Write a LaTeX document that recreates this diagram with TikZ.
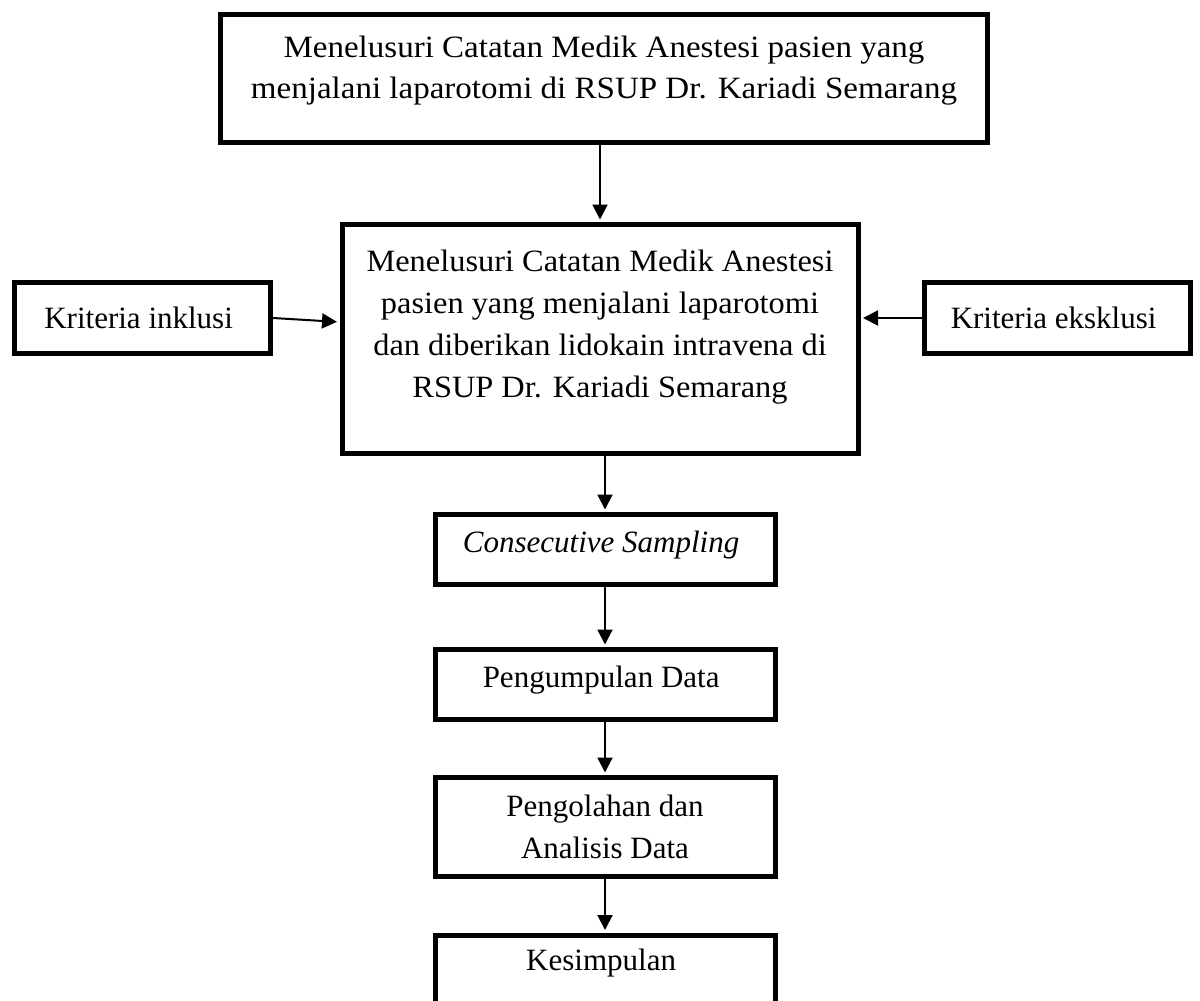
\documentclass[tikz,border=0pt]{standalone}
\usepackage{fontspec}
\setmainfont{Liberation Serif}
\newfontfamily\lebar[FakeStretch=1.065]{Liberation Serif}
\newfontfamily\agaklebar[FakeStretch=1.045]{Liberation Serif}
\usetikzlibrary{arrows.meta}
\begin{document}
\begin{tikzpicture}[x=1pt,y=-1pt,
    kotak/.style={draw,line width=5pt,align=center,inner sep=0pt,font=\fontsize{31}{42}\selectfont},
    panah/.style={-{Triangle[length=15pt,width=15pt]},line width=2pt,shorten >=2.5pt}]
            \useasboundingbox (0,0) rectangle (1200,1001);

            \node[kotak,font=\lebar\fontsize{31}{41}\selectfont,minimum width=767pt,minimum height=128pt,text depth=23pt] (TOP) at (604, 78.5) { Menelusuri Catatan Medik Anestesi pasien yang\\menjalani laparotomi di RSUP Dr. Kariadi Semarang };
            \node[kotak,font=\agaklebar\fontsize{31}{42}\selectfont,minimum width=516pt,minimum height=229pt,text depth=31pt] (MID) at (600, 339) { Menelusuri Catatan Medik Anestesi\\pasien yang menjalani laparotomi\\dan diberikan lidokain intravena di\\RSUP Dr. Kariadi Semarang };
            \node[kotak,minimum width=256pt,minimum height=71pt] (INKL) at (142.5, 318) { Kriteria inklusi };
            \node[kotak,minimum width=266pt,minimum height=71pt] (EKSK) at (1057.5, 318) { Kriteria eksklusi };
            \node[kotak,minimum width=340pt,minimum height=70pt,text depth=15pt] (CONSEC) at (605, 549.5) { \itshape Consecutive Sampling };
            \node[kotak,minimum width=340pt,minimum height=70pt,text depth=15pt] (PENG) at (605, 684.5) { Pengumpulan Data };
            \node[kotak,minimum width=340pt,minimum height=99pt] (OLAH) at (605, 827) { Pengolahan dan\\Analisis Data };
            \node[kotak,minimum width=340pt,minimum height=72pt,text depth=23pt] (KESIM) at (605, 971) { Kesimpulan };

            \draw[panah] (TOP.south -| MID.north) -- (MID.north);
            \draw[panah] (INKL.east) -- ([yshift=-4pt]INKL.east -| MID.west);
            \draw[panah] (EKSK.west) -- (EKSK.west -| MID.east);
            \draw[panah] (MID.south -| CONSEC.north) -- (CONSEC.north);
            \draw[panah] (CONSEC.south) -- (PENG.north);
            \draw[panah] (PENG.south) -- (OLAH.north);
            \draw[panah] (OLAH.south) -- (KESIM.north);

        \end{tikzpicture}
\end{document}
